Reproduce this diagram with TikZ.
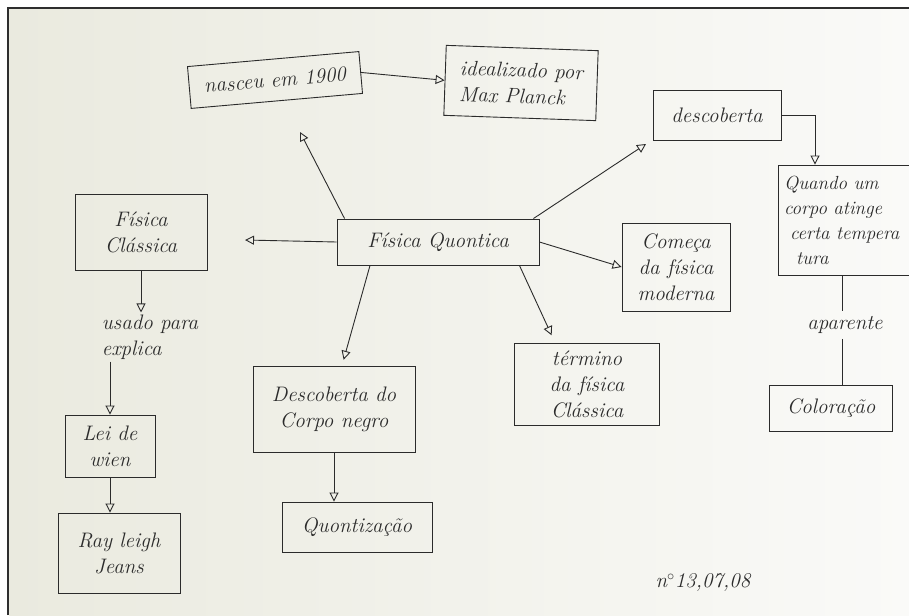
\documentclass[tikz,border=0pt]{standalone}
\usetikzlibrary{arrows.meta,calc}
\definecolor{inkc}{HTML}{2B2B2B}
\definecolor{paperL}{HTML}{EAEADF}
\definecolor{paperR}{HTML}{FAFAF8}
\definecolor{framec}{HTML}{2E2E2E}
\newcommand\handfont{\fontsize{21}{26}\selectfont\itshape}
\begin{document}
\begin{tikzpicture}[x=1pt,y=-1pt,
  ink/.style={draw=inkc, line width=0.9pt},
  box/.style={ink, align=center, font=\handfont, text=inkc, inner sep=3pt},
  lbl/.style={align=left, font=\handfont, text=inkc, inner sep=2pt},
  link/.style={ink, -{Triangle[open,length=9pt,width=9pt,line width=0.9pt]}},
  plain/.style={ink},
]
% page and paper
\useasboundingbox (0,0) rectangle (909,615);
\fill[white] (0,0) rectangle (909,615);
\shade[left color=paperL, right color=paperR] (9,9) rectangle (909,615);
\draw[framec, line width=2pt] (8,615) -- (8,8) -- (909,8);

% boxes
\node[box, minimum width=172, minimum height=42, rotate=5] (nasce) at (275,80) {nasceu em 1900};
\node[box, align=left, minimum width=152, minimum height=70, rotate=-2] (ideal) at (521,83) {idealizado por\\Max Planck};
\node[box, minimum width=128, minimum height=50] (desc) at (717,115) {descoberta};
\node[box, align=left, minimum width=140, minimum height=110, text width=128,
      font=\fontsize{19}{25}\selectfont\itshape] (quando) at (848,220)
      {Quando um\\corpo atinge\\\hspace*{6pt}certa tempera\\\hspace*{12pt}tura};
\node[box, minimum width=132, minimum height=76] (fc) at (141,232) {Física\\Clássica};
\node[box, minimum width=202, minimum height=46] (fq) at (438,242) {Física Quontica};
\node[box, minimum width=108, minimum height=88] (comeca) at (676,267) {Começa\\da física\\moderna};
\node[box, minimum width=145, minimum height=82] (term) at (587,384) {término\\da física\\Clássica};
\node[box, minimum width=162, minimum height=86] (corpo) at (334,409) {Descoberta do\\Corpo negro};
\node[box, minimum width=150, minimum height=50] (quant) at (357,527) {Quontização};
\node[box, minimum width=90, minimum height=62] (lei) at (110,446) {Lei de\\wien};
\node[box, minimum width=122, minimum height=80] (ray) at (119,553) {Ray leigh\\Jeans};
\node[box, minimum width=123, minimum height=46] (color) at (831,408) {Coloração};

% free-standing labels
\node[lbl] (usado) at (150,337) {usado para\\explica};
\node[lbl] (aparente) at (845,325) {aparente};
\node[lbl] (date) at (703,583) {n$^{\circ}$13,07,08};

% loose arrow ends
\coordinate (lt) at (245,240);
\coordinate (ul) at (300,132);
\coordinate (ur) at (646,144);
\coordinate (dqx) at (815,0);
\coordinate (apx) at (842,0);

% connectors
\draw[link] (nasce.east) -- (ideal.west);
\draw[link] (desc.east) -| (quando.north -| dqx);
\draw[link] (fq.west) -- (lt);
\draw[link] ([xshift=8pt]fq.north west) -- (ul);
\draw[link] ([xshift=-6pt]fq.north east) -- (ur);
\draw[link] (fq.east) -- (comeca.west);
\draw[link, shorten >=8pt] ([xshift=-20pt]fq.south east) -- ([xshift=-32pt]term.north);
\draw[link, shorten >=6pt] ([xshift=-68pt]fq.south) -- ([xshift=8pt]corpo.north);
\draw[link] (corpo.south) -- (corpo.south |- quant.north);
\draw[link] (fc.south) -- (fc.south |- usado.north);
\draw[link] (lei.north |- usado.south) -- (lei.north);
\draw[link] (lei.south) -- (lei.south |- ray.north);
\draw[plain, shorten >=3pt] (apx |- quando.south) -- (apx |- aparente.north);
\draw[plain, shorten <=3pt] (apx |- aparente.south) -- (apx |- color.north);
\end{tikzpicture}
\end{document}
